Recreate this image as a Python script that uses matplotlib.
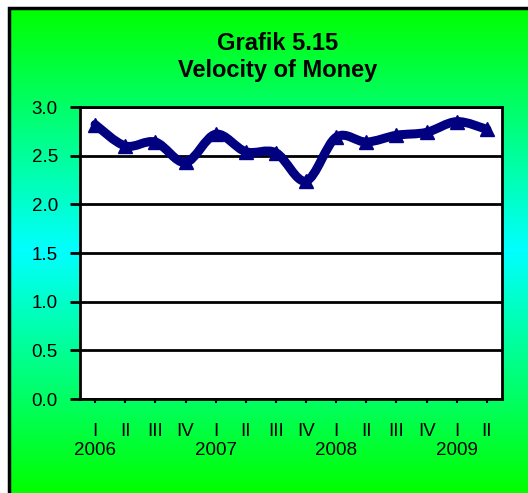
import matplotlib
matplotlib.use("Agg")
import matplotlib.pyplot as plt
import numpy as np
from matplotlib.patches import Rectangle, PathPatch
from matplotlib.path import Path

plt.rcParams['font.family'] = ['Liberation Sans', 'DejaVu Sans']

# data
quarters = ["I", "II", "III", "IV", "I", "II", "III", "IV",
            "I", "II", "III", "IV", "I", "II"]
years = {0: "2006", 4: "2007", 8: "2008", 12: "2009"}
velocity = [2.82, 2.60, 2.64, 2.43, 2.72, 2.54, 2.53, 2.24,
            2.69, 2.64, 2.71, 2.74, 2.85, 2.77]
yticks = [0.0, 0.5, 1.0, 1.5, 2.0, 2.5, 3.0]

W, H = 528, 493
fig = plt.figure(figsize=(W / 100, H / 100), dpi=100)
fig.patch.set_facecolor("white")

# gradient background green -> cyan -> green
bg = fig.add_axes([9 / W, 0, 1 - 9 / W, 1 - 8 / H])
t = np.linspace(0, 1, 256)
g = 1 - np.abs(t - 0.5) * 2
img = np.zeros((256, 1, 3))
img[:, 0, 1] = 1.0
img[:, 0, 2] = g
bg.imshow(img, aspect="auto", extent=[0, 1, 0, 1])
bg.set_xlim(0, 1)
bg.set_ylim(0, 1)
bg.axis("off")
bg.add_patch(Rectangle((0, -0.1), 1.2, 1.1, fill=False, edgecolor="black",
                       linewidth=2.5, transform=bg.transAxes, clip_on=False))

# plot area
x0, x1, y0, y1 = 80, 502, 107, 399
ax = fig.add_axes([x0 / W, 1 - y1 / H, (x1 - x0) / W, (y1 - y0) / H])
ax.set_facecolor("white")
x = np.arange(len(quarters))
ax.set_ylim(0, 3.0)
ax.set_xlim(-0.5, len(quarters) - 0.5)

# smoothed line (bezier through the points, like excel)
pts = np.column_stack([x, velocity]).astype(float)
verts = [pts[0]]
codes = [Path.MOVETO]
for i in range(len(pts) - 1):
    p0 = pts[max(i - 1, 0)]
    p1 = pts[i]
    p2 = pts[i + 1]
    p3 = pts[min(i + 2, len(pts) - 1)]
    c1 = p1 + (p2 - p0) / 6
    c2 = p2 - (p3 - p1) / 6
    verts += [c1, c2, p2]
    codes += [Path.CURVE4] * 3
ax.add_patch(PathPatch(Path(verts, codes), fill=False, edgecolor="#000080",
                       linewidth=6.5, capstyle="round", joinstyle="round", zorder=3))
ax.plot(x, velocity, linestyle="none", marker="^", markersize=10,
        color="#000080", zorder=4)

ax.set_yticks(yticks)
ax.set_yticklabels([f"{v:.1f}" for v in yticks], fontsize=13.5)
ax.yaxis.grid(True, color="black", linewidth=2)
ax.set_axisbelow(True)
ax.set_xticks(x)
ax.set_xticklabels([q + ("\n" + years[i] if i in years else "\n") for i, q in enumerate(quarters)],
                   fontsize=13.5, linespacing=1.15)
ax.tick_params(axis="y", length=7, width=2, pad=9)
ax.tick_params(axis="x", length=3, width=1.5, pad=14)
for s in ax.spines.values():
    s.set_linewidth(2)
    s.set_color("black")

fig.text(278 / W, 1 - 57 / H, "Grafik 5.15\nVelocity of Money", ha="center",
         va="center", fontsize=17, fontweight="bold", linespacing=1.25)

fig.savefig("out.png", dpi=100, facecolor=fig.get_facecolor())
